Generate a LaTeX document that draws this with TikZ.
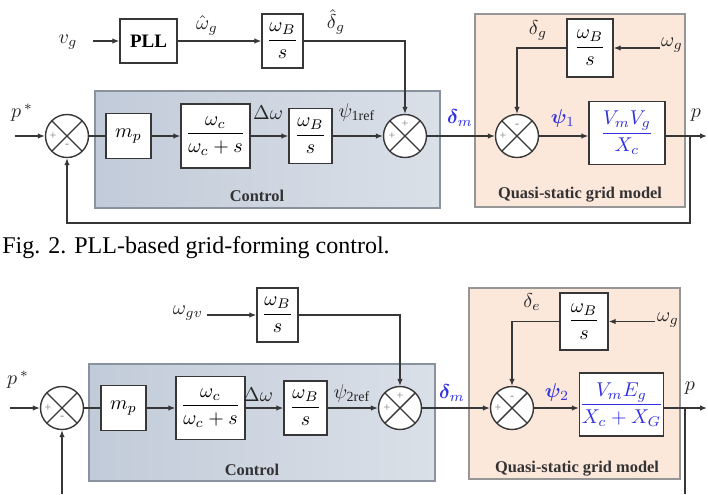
\documentclass[tikz,border=0pt]{standalone}
\usepackage{fontspec}
\setmainfont{Liberation Serif}
\usepackage{amsmath}
\usepackage{bm}
\usetikzlibrary{arrows.meta}

\definecolor{ctlfillL}{RGB}{194,203,217}
\definecolor{ctlfillR}{RGB}{218,224,232}
\definecolor{ctledge}{RGB}{138,146,160}
\definecolor{gridfill}{RGB}{252,231,219}
\definecolor{gridedge}{RGB}{150,150,150}
\definecolor{sigblue}{RGB}{50,50,225}
\definecolor{wire}{RGB}{55,55,55}

\begin{document}
\begin{tikzpicture}[x=0.5pt,y=0.5pt,
  blk/.style={draw=wire, line width=0.7pt, fill=white, inner sep=0pt, font=\fontsize{10}{12}\selectfont},
  sumnode/.style={circle, draw=wire, line width=0.7pt, fill=white, minimum size=21.5pt, inner sep=0pt,
    path picture={\draw[wire, line width=0.7pt]
      (path picture bounding box.north west) -- (path picture bounding box.south east)
      (path picture bounding box.north east) -- (path picture bounding box.south west);}},
  sgn/.style={font=\fontsize{6}{6}\selectfont, text=gray, inner sep=0pt},
  sig/.style={font=\fontsize{10}{12}\selectfont, inner sep=0pt, text=black!85},
  bluesig/.style={sig, text=sigblue},
  wirearr/.style={draw=wire, line width=0.65pt, -{Latex[length=3.5pt,width=2.8pt]}},
  wireln/.style={draw=wire, line width=0.65pt},
  tag/.style={font=\bfseries\fontsize{8.2}{10}\selectfont, text=black!80, inner sep=0pt},
]
\useasboundingbox (0,0) rectangle (708,-494);
\fill[white] (0,0) rectangle (708,-494);

% ---------------- PLL-based scheme ----------------
\draw[ctledge, line width=0.8pt, left color=ctlfillL, right color=ctlfillR] (95,-91) rectangle (440,-208);
\draw[gridedge, line width=0.8pt, fill=gridfill] (475,-14) rectangle (685,-207);
\node[tag] (ctla) at (257,-196) {Control};
\node[tag] (grida) at (580,-195) {Quasi-static grid model};

\node[blk, minimum width=28.5pt, minimum height=22pt, font=\bfseries\fontsize{9.5}{11}\selectfont] (pll) at (148.5,-41) {PLL};
\node[blk, minimum width=20.5pt, minimum height=27pt] (pllint) at (282.5,-41) {$\dfrac{\omega_B}{s}$};
\node[sumnode] (sa) at (67,-136) {};
\node[blk, minimum width=22.5pt, minimum height=22.5pt] (mpa) at (128.5,-136) {$m_p$};
\node[blk, minimum width=34.5pt, minimum height=32pt] (lpfa) at (215.5,-136) {$\dfrac{\omega_c}{\omega_c+s}$};
\node[blk, minimum width=21.5pt, minimum height=27.5pt] (inta) at (310.5,-136) {$\dfrac{\omega_B}{s}$};
\node[sumnode] (sb) at (405,-136) {};
\node[sumnode] (sc) at (517,-136) {};
\node[blk, minimum width=23pt, minimum height=29pt] (gridinta) at (590,-48) {$\dfrac{\omega_B}{s}$};
\node[blk, minimum width=38pt, minimum height=31.5pt, text=sigblue] (gaina) at (627,-133) {$\dfrac{V_m V_g}{X_c}$};

\node[sgn] at ([xshift=-7pt]sa.center) {+};
\node[sgn] at ([yshift=-5pt]sa.center) {-};
\node[sgn] at ([yshift=6pt]sb.center) {+};
\node[sgn] at ([xshift=-6.5pt]sb.center) {+};
\node[sgn] at ([yshift=5pt]sc.center) {-};
\node[sgn] at ([xshift=-7pt]sc.center) {+};

\coordinate (vgin) at (93,-41);
\coordinate (pina) at (15,-136);
\coordinate (wgina) at (660,-48);
\coordinate (pouta) at (707,-136);
\coordinate (tapa) at (690,-136);
\coordinate (fbka) at (690,-223);

\draw[wirearr] (vgin) -- (pll);
\draw[wirearr] (pll) -- (pllint);
\draw[wirearr] (pllint) -| (sb);
\draw[wirearr] (pina) -- (sa);
\draw[wireln] (sa) -- (mpa);
\draw[wirearr] (mpa) -- (lpfa);
\draw[wirearr] (lpfa) -- (inta);
\draw[wirearr] (inta) -- (sb);
\draw[wirearr] (sb) -- (sc);
\draw[wirearr] (sc) -- (gaina.west |- sc);
\draw[wirearr] (gaina.east |- sc) -- (pouta);
\draw[wirearr] (wgina) -- (gridinta);
\draw[wirearr] (gridinta) -| (sc);
\draw[wirearr] (tapa) -- (fbka) -| (sa);

\node[sig] (vglbl) at (68,-42) {$v_g$};
\node[sig] (wghat) at (207,-25) {$\hat{\omega}_g$};
\node[sig] (dghat) at (336,-22) {$\hat{\delta}_g$};
\node[sig] (pstara) at (22,-113) {$p^{\,*}$};
\node[sig] (dwa) at (268,-113) {$\Delta\omega$};
\node[sig] (psirefa) at (357,-112) {$\psi_{\mathrm{1ref}}$};
\node[bluesig] (dma) at (460,-118) {$\bm{\delta}_m$};
\node[sig] (dga) at (538,-30) {$\delta_g$};
\node[sig] (wga) at (672,-45) {$\omega_g$};
\node[bluesig] (psia) at (563,-118) {$\bm{\psi}_1$};
\node[sig] (pa) at (696,-115) {$p$};

\node[anchor=base west, font=\fontsize{12}{14}\selectfont, inner sep=0pt] (cap) at (2,-253) {Fig. 2. PLL-based grid-forming control.};

% ---------------- second scheme ----------------
\draw[ctledge, line width=0.8pt, left color=ctlfillL, right color=ctlfillR] (89,-364) rectangle (435,-481);
\draw[gridedge, line width=0.8pt, fill=gridfill] (469,-288) rectangle (680,-479);
\node[tag] (ctlb) at (252,-470) {Control};
\node[tag] (gridb) at (577,-469) {Quasi-static grid model};

\node[blk, minimum width=20.5pt, minimum height=27pt] (vint) at (277.5,-315) {$\dfrac{\omega_B}{s}$};
\node[sumnode] (sab) at (62,-408) {};
\node[blk, minimum width=22.5pt, minimum height=22.5pt] (mpb) at (123.5,-408) {$m_p$};
\node[blk, minimum width=34.5pt, minimum height=31.5pt] (lpfb) at (210.5,-408) {$\dfrac{\omega_c}{\omega_c+s}$};
\node[blk, minimum width=21.5pt, minimum height=27pt] (intb) at (305.5,-408) {$\dfrac{\omega_B}{s}$};
\node[sumnode] (sbb) at (400,-408) {};
\node[sumnode] (scb) at (512,-408) {};
\node[blk, minimum width=24pt, minimum height=28.5pt] (gridintb) at (584,-321.5) {$\dfrac{\omega_B}{s}$};
\node[blk, minimum width=38.5pt, minimum height=31.5pt, text=sigblue] (gainb) at (621.5,-404.5) {$\dfrac{V_m E_g}{X_c+X_G}$};

\node[sgn] at ([xshift=-7pt]sab.center) {+};
\node[sgn] at ([yshift=-5pt]sab.center) {-};
\node[sgn] at ([yshift=6pt]sbb.center) {+};
\node[sgn] at ([xshift=-6.5pt]sbb.center) {+};
\node[sgn] at ([yshift=5pt]scb.center) {-};
\node[sgn] at ([xshift=-7pt]scb.center) {+};

\coordinate (wgvin) at (207,-315);
\coordinate (pinb) at (10,-408);
\coordinate (wginb) at (655,-321.5);
\coordinate (poutb) at (707,-408);
\coordinate (tapb) at (685,-408);
\coordinate (fbkb) at (685,-494);
\coordinate (fbkin) at (62,-494);

\draw[wirearr] (wgvin) -- (vint);
\draw[wirearr] (vint) -| (sbb);
\draw[wirearr] (pinb) -- (sab);
\draw[wireln] (sab) -- (mpb);
\draw[wirearr] (mpb) -- (lpfb);
\draw[wirearr] (lpfb) -- (intb);
\draw[wirearr] (intb) -- (sbb);
\draw[wirearr] (sbb) -- (scb);
\draw[wirearr] (scb) -- (gainb.west |- scb);
\draw[wirearr] (gainb.east |- scb) -- (poutb);
\draw[wirearr] (wginb) -- (gridintb);
\draw[wirearr] (gridintb) -| (scb);
\draw[wireln] (tapb) -- (fbkb);
\draw[wirearr] (fbkin) -- (sab);

\node[sig] (wgvlbl) at (188,-313) {$\omega_{gv}$};
\node[sig] (pstarb) at (18,-380) {$p^{\,*}$};
\node[sig] (dwb) at (258,-395) {$\Delta\omega$};
\node[sig] (psirefb) at (352,-393) {$\psi_{\mathrm{2ref}}$};
\node[bluesig] (dmb) at (452,-393) {$\bm{\delta}_m$};
\node[sig] (deb) at (532,-302) {$\delta_e$};
\node[sig] (wgb) at (668,-320) {$\omega_g$};
\node[bluesig] (psib) at (557,-392) {$\bm{\psi}_2$};
\node[sig] (pb) at (690,-388) {$p$};

\end{tikzpicture}
\end{document}
